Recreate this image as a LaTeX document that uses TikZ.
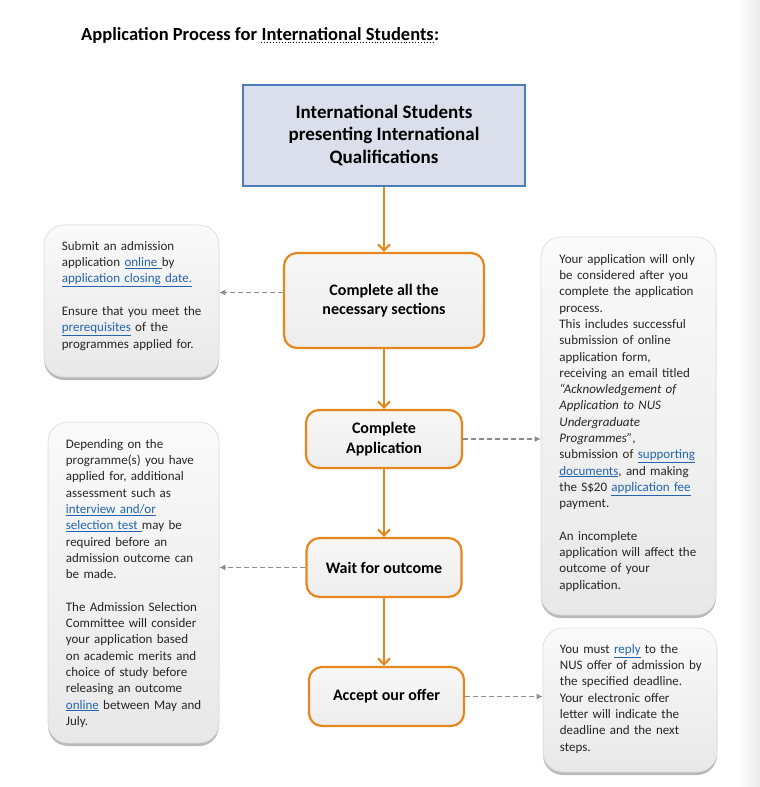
\documentclass[tikz,border=0pt]{standalone}
\usepackage{fontspec}
\setmainfont{Carlito}
\usetikzlibrary{arrows.meta,shadows}
\definecolor{flowOrange}{RGB}{230,135,30}
\definecolor{topFill}{RGB}{218,223,235}
\definecolor{topBorder}{RGB}{74,126,187}
\definecolor{linkBlue}{RGB}{35,100,175}
\definecolor{hintGray}{RGB}{140,140,140}
\newcommand{\lnk}[1]{\textcolor{linkBlue}{\underline{#1}}}

\begin{document}
\begin{tikzpicture}[x=1pt,y=-1pt,
    topbox/.style={draw=topBorder,line width=2.2pt,fill=topFill,minimum width=282pt,minimum height=101pt,
      align=center,font=\fontsize{19}{22.5}\selectfont\bfseries},
    flowbox/.style={draw=flowOrange,line width=2.2pt,rounded corners=13pt,top color=black!3,bottom color=black!7,
      minimum width=155pt,minimum height=59pt,align=center,font=\fontsize{16}{19.5}\selectfont\bfseries},
    notebox/.style={draw=black!15,line width=0.6pt,rounded corners=20pt,top color=black!2,bottom color=black!9,
      drop shadow={shadow xshift=0pt,shadow yshift=-3pt,fill=black!45,opacity=0.6}},
    notetext/.style={anchor=base west,inner sep=0pt,text width=170pt,align=left,
      font=\fontsize{13}{16.3}\selectfont,text=black!85},
    titletext/.style={anchor=base west,inner sep=0pt,font=\fontsize{18.5}{20}\selectfont\bfseries},
    flow/.style={draw=flowOrange,line width=2.2pt,-{Straight Barb[length=6pt,width=12pt]}},
    hint/.style={draw=hintGray,line width=1.4pt,dash pattern=on 5pt off 3pt,-{Latex[length=6pt,width=6pt]}}
  ]
  \useasboundingbox (0,0) rectangle (760,787);
  \shade[left color=white,right color=black!8] (738,0) rectangle (760,787);

  % title
  \node[titletext] (title) at (81,40) {Application Process for};
  \node[titletext] (titleword) at ([xshift=4.2pt]title.base east) {International Students};
  \node[titletext] (titlecolon) at (titleword.base east) {:};
  \draw[dotted,line width=0.9pt] ([yshift=-2.5pt]titleword.base west) -- ([yshift=-2.5pt]titleword.base east);

  % main flow
  \node[topbox] (origin) at (384,135.5) {International Students\\presenting International\\Qualifications};
  \node[flowbox,minimum width=200pt,minimum height=95pt] (sections) at (384,300.5) {Complete all the\\necessary sections};
  \node[flowbox,minimum width=156pt,minimum height=58pt] (application) at (384,439) {Complete\\Application};
  \node[flowbox] (wait) at (384,567.5) {Wait for outcome};
  \node[flowbox] (accept) at (386.5,696.5) {Accept our offer};
  \foreach \a/\b in {origin/sections,sections/application,application/wait,wait/accept}
    \draw[flow] (\a.south) -- (\a.south |- \b.north);

  % side notes
  \node[notebox,minimum width=175pt,minimum height=152pt] (noteA) at (131.5,301) {};
  \node[notebox,minimum width=175pt,minimum height=378pt] (noteB) at (628.5,426) {};
  \node[notebox,minimum width=171pt,minimum height=321pt] (noteC) at (133.5,582.5) {};
  \node[notebox,minimum width=174pt,minimum height=144pt] (noteD) at (630,700) {};

  \node[notetext] (noteAtext) at ([shift={(18,25.5)}]noteA.north west)
    {Submit an admission\\
     application \lnk{online }by\\
     \lnk{application closing date.}\\[16.3pt]
     Ensure that you meet the\\
     \lnk{prerequisites} of the\\
     programmes applied for.};
  \node[notetext] (noteBtext) at ([shift={(18.5,26.5)}]noteB.north west)
    {Your application will only\\
     be considered after you\\
     complete the application\\
     process.\\
     This includes successful\\
     submission of online\\
     application form,\\
     receiving an email titled\\
     \textit{“Acknowledgement of}\\
     \textit{Application to NUS}\\
     \textit{Undergraduate}\\
     \textit{Programmes”},\\
     submission of \lnk{supporting}\\
     \lnk{documents}, and making\\
     the S\$20 \lnk{application fee}\\
     payment.\\[16.3pt]
     An incomplete\\
     application will affect the\\
     outcome of your\\
     application.};
  \node[notetext] (noteCtext) at ([shift={(18,26.5)}]noteC.north west)
    {Depending on the\\
     programme(s) you have\\
     applied for, additional\\
     assessment such as\\
     \lnk{interview and/or}\\
     \lnk{selection test }may be\\
     required before an\\
     admission outcome can\\
     be made.\\[16.3pt]
     The Admission Selection\\
     Committee will consider\\
     your application based\\
     on academic merits and\\
     choice of study before\\
     releasing an outcome\\
     \lnk{online} between May and\\
     July.};
  \node[notetext] (noteDtext) at ([shift={(17,25.5)}]noteD.north west)
    {You must \lnk{reply} to the\\
     NUS offer of admission by\\
     the specified deadline.\\
     Your electronic offer\\
     letter will indicate the\\
     deadline and the next\\
     steps.};

  % dashed hints
  \coordinate (hintA) at ([yshift=8pt]sections.west);
  \draw[hint] (hintA) -- (hintA -| noteA.east);
  \draw[hint] (application.east) -- (application.east -| noteB.west);
  \draw[hint] (wait.west) -- (wait.west -| noteC.east);
  \draw[hint] (accept.east) -- (accept.east -| noteD.west);
\end{tikzpicture}
\end{document}
